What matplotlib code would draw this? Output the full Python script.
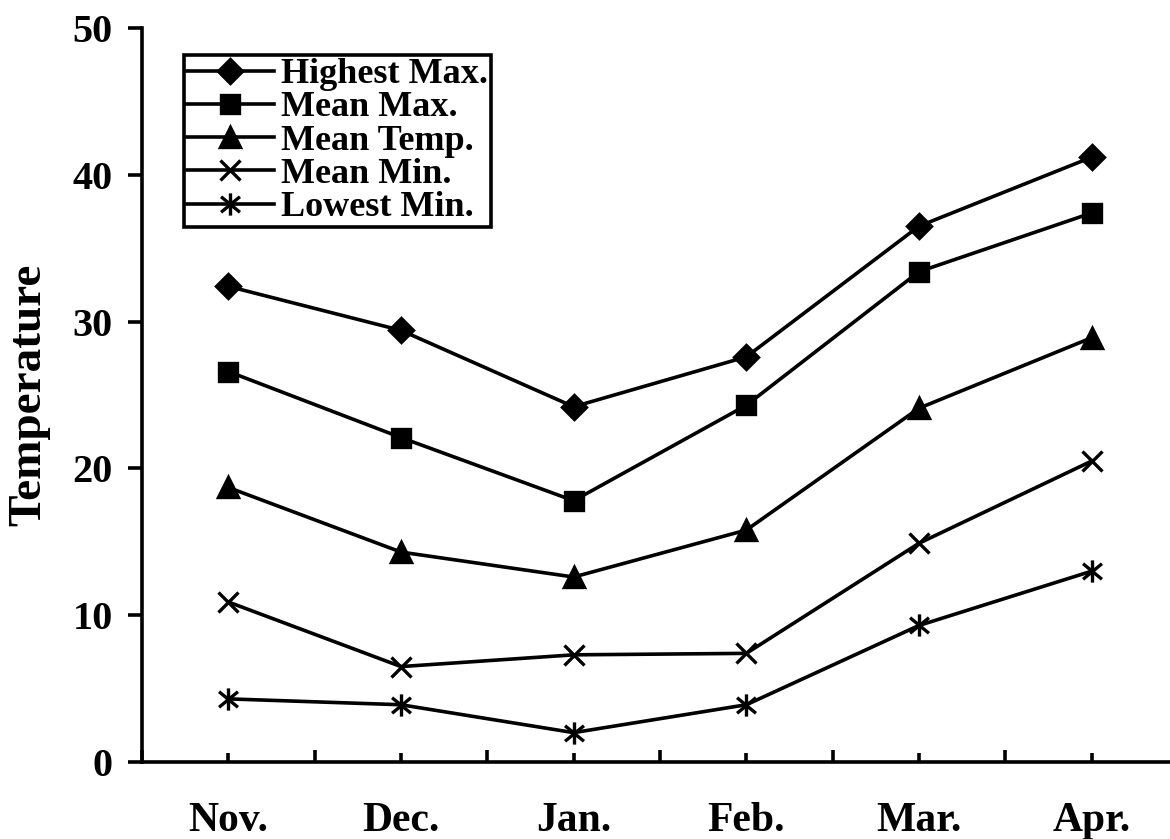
import matplotlib
matplotlib.use('Agg')
import matplotlib.pyplot as plt
from matplotlib.path import Path

# data
months = ['Nov.', 'Dec.', 'Jan.', 'Feb.', 'Mar.', 'Apr.']
highest_max = [32.4, 29.4, 24.2, 27.6, 36.5, 41.2]
mean_max = [26.6, 22.1, 17.8, 24.3, 33.4, 37.4]
mean_temp = [18.7, 14.3, 12.6, 15.8, 24.1, 28.9]
mean_min = [10.9, 6.5, 7.3, 7.4, 14.9, 20.5]
lowest_min = [4.3, 3.9, 2.0, 3.9, 9.3, 13.0]

plt.rcParams['font.family'] = ['Liberation Serif', 'DejaVu Serif']
plt.rcParams['font.weight'] = 'bold'

# asterisk marker: vertical bar plus an X
asterisk = Path(
    [(0, -1), (0, 1), (-0.85, -0.7), (0.85, 0.7), (-0.85, 0.7), (0.85, -0.7)],
    [Path.MOVETO, Path.LINETO, Path.MOVETO, Path.LINETO, Path.MOVETO, Path.LINETO])

fig = plt.figure(figsize=(11.7, 8.39), dpi=100)
ax = fig.add_axes([142 / 1170, 77 / 839, 1036 / 1170, (762 - 28) / 839])

x = list(range(len(months)))
lw = 2.6
series = [
    (highest_max, 'D', 12.5, 'Highest Max.'),
    (mean_max, 's', 13.5, 'Mean Max.'),
    (mean_temp, '^', 14, 'Mean Temp.'),
    (mean_min, 'x', 14, 'Mean Min.'),
    (lowest_min, asterisk, 16, 'Lowest Min.'),
]
for vals, mk, ms, lab in series:
    ax.plot(x, vals, color='black', linewidth=lw, marker=mk, markersize=ms,
            markerfacecolor='black', markeredgecolor='black', markeredgewidth=2.4,
            label=lab, clip_on=False)

ax.set_xlim(-0.5, 5.5)
ax.set_ylim(0, 50)
ax.set_yticks([0, 10, 20, 30, 40, 50])
ax.set_xticks(x)
ax.set_xticklabels(months)
ax.set_xticks([i + 0.5 for i in range(-1, 6)], minor=True)

for side in ['top', 'right']:
    ax.spines[side].set_visible(False)
for side in ['left', 'bottom']:
    ax.spines[side].set_linewidth(2.6)

ax.tick_params(axis='y', direction='out', length=10, width=2.6, pad=11, labelsize=29)
ax.tick_params(axis='x', which='major', direction='in', length=6.5, width=2.6, pad=29, labelsize=30)
ax.tick_params(axis='x', which='minor', direction='in', length=8.5, width=2.6)

ax.set_ylabel('Temperature', fontsize=34, fontweight='bold', labelpad=16)

leg = ax.legend(loc='upper left', bbox_to_anchor=(184 / 1170, 1 - 55 / 839),
                bbox_transform=fig.transFigure, borderaxespad=0, fancybox=False,
                frameon=True, edgecolor='black', framealpha=1,
                handlelength=2.4, handletextpad=0.2, labelspacing=0.0,
                borderpad=0.08, prop={'weight': 'bold', 'size': 26})
leg.get_frame().set_linewidth(2.6)

fig.savefig('out.png', dpi=100, facecolor='white')
